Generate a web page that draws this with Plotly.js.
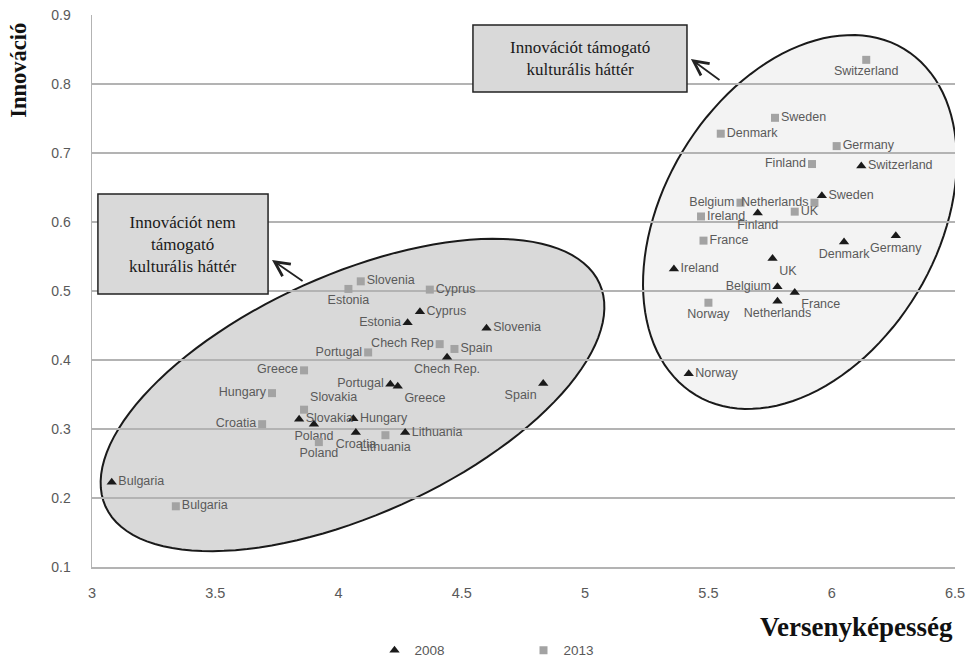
<!DOCTYPE html>
<html>
<head>
<meta charset="utf-8">
<script src="https://cdn.plot.ly/plotly-3.0.1.min.js"></script>
<style>html,body{margin:0;padding:0;background:#fff;}#chart{width:971px;height:658px;}</style>
</head>
<body>
<div id="chart"></div>
<script>
// ---- Data ----
const countries2008 = ["Bulgaria","Slovakia","Poland","Hungary","Croatia","Lithuania","Portugal","Greece","Estonia","Cyprus","Chech Rep.","Slovenia","Spain",
  "Switzerland","Sweden","Finland","Denmark","Germany","UK","Ireland","Belgium","France","Netherlands","Norway"];
const comp2008 = [3.08,3.84,3.90,4.06,4.07,4.27,4.21,4.24,4.28,4.33,4.44,4.60,4.83,
  6.12,5.96,5.70,6.05,6.26,5.76,5.36,5.78,5.85,5.78,5.42];
const innov2008 = [0.223,0.314,0.307,0.315,0.295,0.295,0.365,0.362,0.454,0.470,0.404,0.446,0.366,
  0.681,0.638,0.613,0.571,0.580,0.547,0.532,0.506,0.498,0.485,0.380];

const countries2013 = ["Bulgaria","Croatia","Hungary","Greece","Slovakia","Poland","Lithuania","Portugal","Estonia","Slovenia","Cyprus","Chech Rep","Spain",
  "Switzerland","Sweden","Denmark","Germany","Finland","Belgium","Netherlands","Ireland","UK","France","Norway"];
const comp2013 = [3.34,3.69,3.73,3.86,3.86,3.92,4.19,4.12,4.04,4.09,4.37,4.41,4.47,
  6.14,5.77,5.55,6.02,5.92,5.63,5.93,5.47,5.85,5.48,5.50];
const innov2013 = [0.188,0.307,0.352,0.385,0.328,0.281,0.291,0.411,0.503,0.514,0.502,0.423,0.416,
  0.835,0.751,0.728,0.710,0.684,0.628,0.628,0.608,0.615,0.573,0.483];

const xTicks = [3,3.5,4,4.5,5,5.5,6,6.5];
const yTicks = [0.1,0.2,0.3,0.4,0.5,0.6,0.7,0.8,0.9];
const seriesNames = ["2008","2013"];

// ---- label placement (style) ----
const labelPos2008 = ["middle right","middle right","bottom center","middle right","bottom center","middle right","middle left","bottom right","middle left","middle right","bottom center","middle right","bottom left",
  "middle right","middle right","bottom center","bottom center","bottom center","bottom right","middle right","middle left","bottom right","bottom center","middle right"];
const labelPos2013 = ["middle right","middle left","middle left","middle left","top right","bottom center","bottom center","middle left","bottom center","middle right","middle right","middle left","middle right",
  "bottom center","middle right","middle right","middle right","middle left","middle left","middle left","middle right","middle right","middle right","bottom center"];

// ---- layout geometry ----
const W = 971, H = 658;
const M = {l:92, r:16, t:15, b:91, autoexpand: false};
const xRange = [3, 6.5], yRange = [0.1, 0.9];
const kx = (W - M.l - M.r) / (xRange[1]-xRange[0]);
const ky = (H - M.t - M.b) / (yRange[1]-yRange[0]);

function ellipsePath(cx, cy, a, b, deg) {
  const t = deg * Math.PI / 180;
  let p = "";
  const N = 120;
  for (let i = 0; i <= N; i++) {
    const f = 2 * Math.PI * i / N;
    const dx = a * Math.cos(f) * Math.cos(t) - b * Math.sin(f) * Math.sin(t);
    const dy = a * Math.cos(f) * Math.sin(t) + b * Math.sin(f) * Math.cos(t);
    const x = cx + dx / kx, y = cy + dy / ky;
    p += (i === 0 ? "M" : "L") + x.toFixed(4) + "," + y.toFixed(4);
  }
  return p + "Z";
}

const sans = "Liberation Sans, Arial, sans-serif";
const labelFont = {family: sans, size: 12.5, color: "#5a5a5a"};
const serif = "Liberation Serif, Times New Roman, serif";

const traces = [
  {
    type: "scatter", mode: "markers+text", name: seriesNames[0],
    x: comp2008, y: innov2008, text: countries2008, textposition: labelPos2008,
    marker: {symbol: "triangle-up", size: 9, color: "#1a1a1a"},
    textfont: labelFont, cliponaxis: false, hoverinfo: "x+y+text"
  },
  {
    type: "scatter", mode: "markers+text", name: seriesNames[1],
    x: comp2013, y: innov2013, text: countries2013, textposition: labelPos2013,
    marker: {symbol: "square", size: 8, color: "#a3a3a3"},
    textfont: labelFont, cliponaxis: false, hoverinfo: "x+y+text"
  }
];

const layout = {
  width: W, height: H,
  margin: M,
  paper_bgcolor: "#ffffff", plot_bgcolor: "#ffffff",
  showlegend: true,
  legend: {orientation: "h", x: 0.50, xanchor: "center", y: -0.151, yanchor: "middle",
    font: {family: sans, size: 13.5, color: "#595959"},
    itemwidth: 30, entrywidth: 104, entrywidthmode: "pixels", bgcolor: "rgba(0,0,0,0)"},
  xaxis: {range: xRange, tickvals: xTicks, ticktext: xTicks.map(String), showgrid: false, zeroline: false,
    showline: true, linecolor: "#b3b3b3", linewidth: 1.5, ticks: "", ticklabelstandoff: 12,
    tickfont: {family: sans, size: 14.5, color: "#595959"}, fixedrange: true},
  yaxis: {range: yRange, tickvals: yTicks, ticktext: yTicks.map(v => v.toFixed(1)), showgrid: true, gridcolor: "#b3b3b3", gridwidth: 1.5,
    zeroline: false, showline: true, linecolor: "#b3b3b3", linewidth: 1.5, ticks: "", ticklabelstandoff: 17,
    tickfont: {family: sans, size: 14, color: "#595959"}, fixedrange: true},
  shapes: [
    {type: "path", xref: "x", yref: "y", layer: "below", path: ellipsePath(4.0565, 0.3493, 271, 120, 24.3),
      fillcolor: "#d9d9d9", line: {color: "#1a1a1a", width: 2}},
    {type: "path", xref: "x", yref: "y", layer: "below", path: ellipsePath(5.871, 0.600, 202, 137, 59),
      fillcolor: "#f3f3f3", line: {color: "#1a1a1a", width: 2}},
    {type: "rect", xref: "x", yref: "y", layer: "above", x0: 4.545, x1: 5.413, y0: 0.7884, y1: 0.8855,
      fillcolor: "#d9d9d9", line: {color: "#222", width: 1.5}},
    {type: "rect", xref: "x", yref: "y", layer: "above", x0: 3.024, x1: 3.714, y0: 0.4957, y1: 0.6406,
      fillcolor: "#d9d9d9", line: {color: "#222", width: 1.5}}
  ],
  annotations: [
    {xref: "x", yref: "y", x: 4.979, y: 0.837, text: "Innovációt támogató<br>kulturális háttér", showarrow: false,
      font: {family: serif, size: 17, color: "#1a1a1a"}, align: "center", xanchor: "center", yanchor: "middle"},
    {xref: "x", yref: "y", x: 3.369, y: 0.568, text: "Innovációt nem<br>támogató<br>kulturális háttér", showarrow: false,
      font: {family: serif, size: 17, color: "#1a1a1a"}, align: "center", xanchor: "center", yanchor: "middle"},
    {xref: "x", yref: "y", axref: "x", ayref: "y", x: 5.429, y: 0.8362, ax: 5.551, ay: 0.8043, text: "",
      showarrow: true, arrowhead: 5, arrowsize: 1.6, arrowwidth: 1.8, arrowcolor: "#222", standoff: 0},
    {xref: "x", yref: "y", axref: "x", ayref: "y", x: 3.730, y: 0.5449, ax: 3.860, ay: 0.5130, text: "",
      showarrow: true, arrowhead: 5, arrowsize: 1.6, arrowwidth: 1.8, arrowcolor: "#222", standoff: 0},
    {xref: "paper", yref: "paper", x: -0.086, y: 0.99, text: "<b>Innováció</b>", showarrow: false, textangle: -90,
      font: {family: serif, size: 22.5, color: "#111"}, xanchor: "center", yanchor: "top"},
    {xref: "paper", yref: "paper", x: 0.9995, y: -0.108, text: "<b>Versenyképesség</b>", showarrow: false,
      font: {family: serif, size: 27, color: "#111"}, xanchor: "right", yanchor: "middle"}
  ]
};

Plotly.newPlot("chart", traces, layout, {displayModeBar: false, staticPlot: true});
</script>
</body>
</html>
